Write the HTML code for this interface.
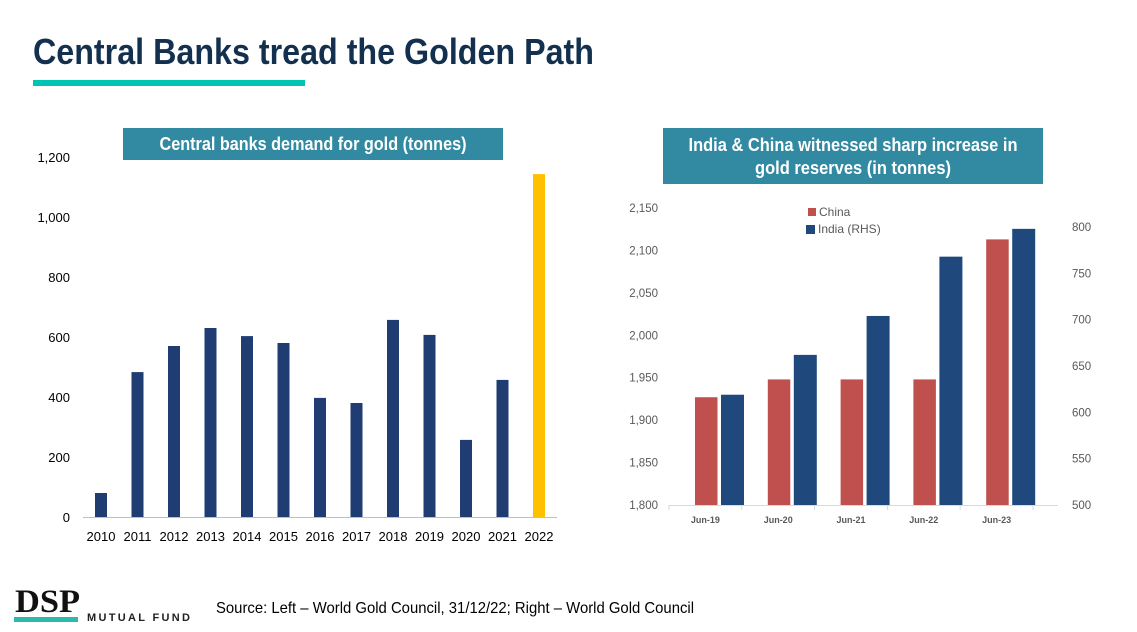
<!DOCTYPE html>
<html><head><meta charset="utf-8"><style>
html,body{margin:0;padding:0;background:#fff;}
svg{display:block;font-family:"Liberation Sans",sans-serif;}
</style></head><body>
<svg width="1137" height="632" viewBox="0 0 1137 632">
<text x="33" y="64" font-size="36" font-weight="bold" fill="#13304f" textLength="561" lengthAdjust="spacingAndGlyphs">Central Banks tread the Golden Path</text>
<rect x="33" y="80" width="272" height="6" fill="#00c4b3"/>

<rect x="123" y="128" width="380" height="32" fill="#318aa1"/>
<text x="313" y="150" text-anchor="middle" font-size="18" font-weight="bold" fill="#fff" textLength="307" lengthAdjust="spacingAndGlyphs">Central banks demand for gold (tonnes)</text>

<rect x="663" y="128" width="380" height="56" fill="#318aa1"/>
<text x="853" y="151" text-anchor="middle" font-size="18" font-weight="bold" fill="#fff" textLength="329" lengthAdjust="spacingAndGlyphs">India &amp; China witnessed sharp increase in</text>
<text x="853" y="174" text-anchor="middle" font-size="18" font-weight="bold" fill="#fff" textLength="196" lengthAdjust="spacingAndGlyphs">gold reserves (in tonnes)</text>

<g id="left"></g>
<g id="right"></g>

<text x="15" y="612" font-family="Liberation Serif,serif" font-size="33" font-weight="bold" fill="#111" textLength="65" lengthAdjust="spacingAndGlyphs">DSP</text>
<rect x="14" y="617" width="64" height="5" fill="#2bbbad"/>
<text x="87" y="621" font-size="11" font-weight="bold" fill="#222" textLength="103" lengthAdjust="spacing">MUTUAL FUND</text>
<text x="216" y="613" font-size="16" fill="#000" textLength="478" lengthAdjust="spacingAndGlyphs">Source: Left – World Gold Council, 31/12/22; Right – World Gold Council</text>
</svg>
<script>
const leftYears=["2010","2011","2012","2013","2014","2015","2016","2017","2018","2019","2020","2021","2022"];
const leftValues=[80,483,570,630,603,580,397,380,657,607,257,457,1143];
const leftTicks=[0,200,400,600,800,1000,1200];
const rightCats=["Jun-19","Jun-20","Jun-21","Jun-22","Jun-23"];
const chinaValues=[1927,1948,1948,1948,2113];
const indiaValues=[619,662,704,768,798];
const rightLeftTicks=[1800,1850,1900,1950,2000,2050,2100,2150];
const rightRightTicks=[500,550,600,650,700,750,800];
const NS="http://www.w3.org/2000/svg";
function mk(p,t,a){const e=document.createElementNS(NS,t);for(const k in a)e.setAttribute(k,a[k]);p.appendChild(e);return e;}
function fmt(v){return v.toLocaleString("en-US");}
const L=document.getElementById("left");
const ly=v=>517-(v/1200)*360;
const lx=i=>101+i*36.5;
leftTicks.forEach(t=>{const e=mk(L,"text",{x:70,y:ly(t)+5,"text-anchor":"end","font-size":13,fill:"#000"});e.textContent=fmt(t);

});
leftValues.forEach((v,i)=>{const b=mk(L,"rect",{x:lx(i)-6,y:ly(v),width:12,height:517-ly(v),fill:i===12?"#ffc000":"#1f3d73"});


const t=mk(L,"text",{x:lx(i),y:541,"text-anchor":"middle","font-size":13,fill:"#000"});t.textContent=leftYears[i];

});
const la=mk(L,"line",{x1:83,x2:557,y1:517.5,y2:517.5,stroke:"#bfbfbf","stroke-width":1});


const R=document.getElementById("right");
const ryL=v=>505-(v-1800)/350*297;
const ryR=v=>505-(v-500)/300*278;
const cw=72.8,x0=669;
rightLeftTicks.forEach(t=>{const e=mk(R,"text",{x:658,y:ryL(t)+4,"text-anchor":"end","font-size":11.5,fill:"#595959"});e.textContent=fmt(t);

});
rightRightTicks.forEach(t=>{const e=mk(R,"text",{x:1072,y:ryR(t)+4,"text-anchor":"start","font-size":11.5,fill:"#595959"});e.textContent=t;

});
const ra=mk(R,"line",{x1:669,x2:1058,y1:505.5,y2:505.5,stroke:"#d9d9d9","stroke-width":1});


for(let i=0;i<=rightCats.length;i++){const tk=mk(R,"line",{x1:x0+i*cw,x2:x0+i*cw,y1:505,y2:510,stroke:"#d9d9d9"});

}
rightCats.forEach((c,i)=>{const left=x0+i*cw;
const b1=mk(R,"rect",{x:left+26,y:ryL(chinaValues[i]),width:22.5,height:505-ryL(chinaValues[i]),fill:"#c0504d"});


const b2=mk(R,"rect",{x:left+52,y:ryR(indiaValues[i]),width:23,height:505-ryR(indiaValues[i]),fill:"#1f497d"});


const t=mk(R,"text",{x:left+cw/2,y:523,"text-anchor":"middle","font-size":9,"font-weight":"bold",fill:"#595959"});t.textContent=c;

});
const g1=mk(R,"rect",{x:808,y:208,width:8,height:8,fill:"#c0504d"});


const t1=mk(R,"text",{x:819,y:216,"font-size":12,fill:"#595959"});t1.textContent="China";


const g2=mk(R,"rect",{x:806,y:225,width:9,height:9,fill:"#1f497d"});


const t2=mk(R,"text",{x:818,y:233,"font-size":12,fill:"#595959"});t2.textContent="India (RHS)";


</script>
</body></html>
